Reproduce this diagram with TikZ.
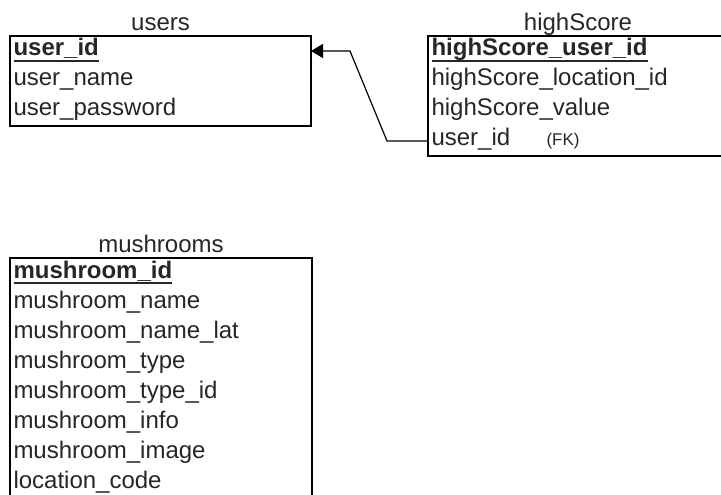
\documentclass[tikz,border=0pt]{standalone}
\usepackage{fontspec}
\setmainfont{Liberation Sans}
\usepackage{tikz}
\usetikzlibrary{positioning, arrows.meta, fit}

\newcommand\fieldfont{\fontsize{24}{28}\selectfont}
\newcommand\pkey[1]{\setbox0\hbox{\textbf{#1}}\rlap{\rule[-6pt]{\wd0}{1.8pt}}\box0}

\tikzset{
  field/.style={anchor=north west, minimum height=30pt, text height=16pt, text depth=6pt,
    inner xsep=3.5pt, inner ysep=4pt, outer sep=0pt, text width=#1, align=left,
    font=\fieldfont, text=black!85},
  tablebox/.style={draw, line width=1.5pt, inner sep=0pt},
  tabletitle/.style={anchor=base, font=\fieldfont, text=black!85, inner sep=0pt},
  fkline/.style={line width=1.2pt, -{Triangle[length=12pt, width=14pt]}}
}

\begin{document}
\begin{tikzpicture}[x=1pt, y=-1pt]
  \useasboundingbox (0,0) rectangle (721,495);

  % users
  \node[field=294pt] (u0) at (10,36) {\pkey{user\_id}};
  \foreach \t [count=\i] in {user\_name, user\_password}{
    \node[field=294pt] (u\i) at (10,{36+30*\i}) {\t};
  }
  \node[tablebox, fit=(u0)(u2)] (users) {};
  \node[tabletitle] (usersTitle) at ([yshift=4.3pt]users.north) {users};

  % highScore
  \node[field=293pt] (h0) at (428,36) {\pkey{highScore\_user\_id}};
  \foreach \t [count=\i] in {highScore\_location\_id, highScore\_value}{
    \node[field=293pt] (h\i) at (428,{36+30*\i}) {\t};
  }
  \node[field=293pt] (h3) at (428,126)
    {\makebox[115pt][l]{user\_id}{\fontsize{17}{20}\selectfont (FK)}};
  \node[tablebox, fit=(h0)(h3)] (highScore) {};
  \node[tabletitle] (highScoreTitle) at ([yshift=4.3pt]highScore.north) {highScore};

  % mushrooms
  \node[field=295pt] (m0) at (10,258) {\pkey{mushroom\_id}};
  \foreach \t [count=\i] in {mushroom\_name, mushroom\_name\_lat, mushroom\_type,
      mushroom\_type\_id, mushroom\_info, mushroom\_image, location\_code}{
    \node[field=295pt] (m\i) at (10,{258+30*\i}) {\t};
  }
  \node[tablebox, fit=(m0)(m7)] (mushrooms) {};
  \node[tabletitle] (mushroomsTitle) at ([yshift=4.3pt]mushrooms.north) {mushrooms};

  % foreign key
  \draw[fkline] (h3.west) -- ++(-41,0) -- ([xshift=39pt]u0.east) -- (u0.east);
\end{tikzpicture}
\end{document}
